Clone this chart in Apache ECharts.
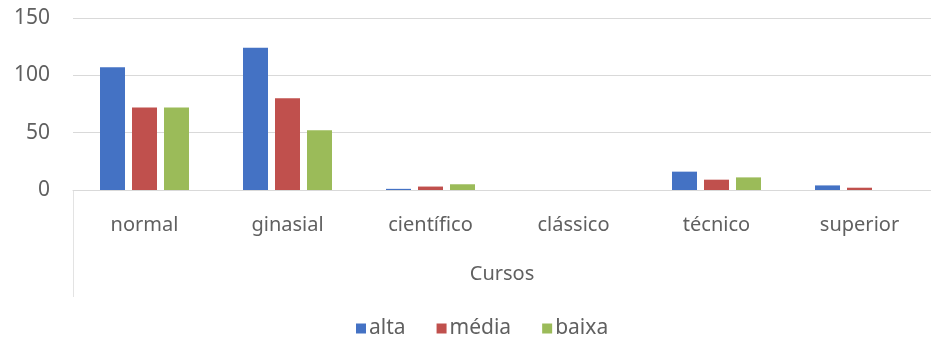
<!DOCTYPE html>
<html>
<head>
<meta charset="utf-8">
<script src="https://cdn.jsdelivr.net/npm/echarts@6/dist/echarts.min.js"></script>
<style>
  html, body { margin: 0; padding: 0; background: #ffffff; }
  #chart { width: 931px; height: 342px; }
</style>
</head>
<body>
<div id="chart"></div>
<script>
// Cursos por nível (alta / média / baixa)
const categories = ['normal', 'ginasial', 'científico', 'clássico', 'técnico', 'superior'];
const alta  = [107, 124, 1, 0, 16, 4];
const media = [72, 80, 3, 0, 9, 2];
const baixa = [72, 52, 5, 0, 11, 0];
const yTicks = { min: 0, max: 150, interval: 50 };

const seriesNames = ['alta', 'média', 'baixa'];
const seriesData = [alta, media, baixa];
const colors = ['#4472C4', '#C0504D', '#9BBB59'];
const fontFamily = '"Noto Sans", "Open Sans", sans-serif';
const textColor = '#606060';

const chart = echarts.init(document.getElementById('chart'));

chart.setOption({
  animation: false,
  color: colors,
  textStyle: { fontFamily: fontFamily },
  grid: { left: 73, right: -12, top: 18, bottom: 152, containLabel: false },
  legend: {
    bottom: 3,
    left: 356,
    padding: 0,
    itemWidth: 10,
    itemHeight: 10,
    itemGap: 31,
    icon: 'rect',
    textStyle: { color: textColor, fontSize: 21, padding: [6, 0, 0, -2] },
    data: seriesNames
  },
  xAxis: {
    type: 'category',
    data: categories,
    name: 'Cursos',
    nameLocation: 'middle',
    nameGap: 74,
    nameTextStyle: { color: textColor, fontSize: 20 },
    axisLine: { lineStyle: { color: '#d9d9d9', width: 1 } },
    axisTick: { show: false },
    axisLabel: { color: textColor, fontSize: 20, margin: 25 },
    splitLine: { show: false }
  },
  yAxis: {
    type: 'value',
    min: yTicks.min,
    max: yTicks.max,
    interval: yTicks.interval,
    axisLine: { show: false },
    axisTick: { show: false },
    axisLabel: { color: textColor, fontSize: 21, margin: 23 },
    splitLine: { lineStyle: { color: '#d9d9d9', width: 1 } }
  },
  graphic: [{
    type: 'line',
    shape: { x1: 73.5, y1: 190, x2: 73.5, y2: 297 },
    style: { stroke: '#e3e3e3', lineWidth: 1 },
    silent: true
  }],
  series: seriesNames.map((name, i) => ({
    name: name,
    type: 'bar',
    data: seriesData[i],
    barWidth: 25,
    barGap: '28%'
  }))
});
</script>
</body>
</html>
